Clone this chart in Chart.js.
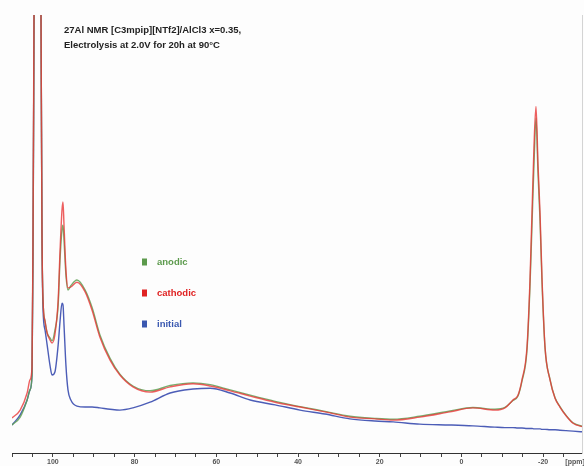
<!DOCTYPE html>
<html lang="en">
  <head>
    <meta charset="UTF-8" />
    <title>27Al NMR</title>
    <script src="https://cdn.jsdelivr.net/npm/chart.js"></script>
    <style>
      body { margin: 0; background: #fdfdfd; }
      #wrap { position: relative; width: 584px; height: 466px; }
      #note {
        position: absolute; left: 64px; top: 22px;
        font: bold 9.5px "Liberation Sans", Arial, sans-serif;
        line-height: 15px; color: #222; white-space: nowrap;
      }
    </style>
  </head>
  <body>
    <div id="wrap">
      <canvas id="nmrChart" width="584" height="466"></canvas>
      <div id="note">27Al NMR [C3mpip][NTf2]/AlCl3 x=0.35,<br />Electrolysis at 2.0V for 20h at 90°C</div>
    </div>
    <script>
      // chemical shift (ppm), shared by all three spectra
      const shift = [
        110, 108.0, 106.3, 105.6, 105.1, 104.86, 104.62, 104.37, 103.76, 103.15, 102.9, 102.66, 102.41,
        101.9, 101.4, 100.7, 100.2, 99.5, 98.7, 98.25, 97.76, 97.52, 97.27, 96.8, 96.3, 95.6, 94.1,
        92.1, 90.4, 88.5, 86.0, 83.6, 80.4, 76.2, 71.3, 65.7, 61.5, 56.6, 51.7, 45.6, 39.5, 33.4,
        27.3, 21.2, 16.7, 10.2, 2.8, -2.8, -8.2, -10.65, -12.6, -13.83, -14.81, -16.04, -16.77,
        -17.26, -17.75, -18.24, -18.73, -19.23, -19.71, -20.45, -21.67, -22.9, -24.1, -25.6, -27.3, -30
      ];
      const anodic = [
        6.4, 8.2, 12.1, 14.4, 17.8, 46, 95, 145, 225, 150, 100, 50, 35,
        30, 27.4, 26.3, 25.6, 28, 33.8, 44, 51, 52, 48.6, 40.6, 37.2, 38.2, 39.5,
        37.2, 33.2, 27, 21.6, 18, 15.3, 14.2, 15.4, 16.0, 15.6, 14.4, 13.2, 11.8, 10.6, 9.5,
        8.4, 7.9, 7.7, 8.4, 9.6, 10.4, 10.0, 10.4, 12.0, 13.0, 16.4, 23.5, 38,
        52, 66, 76.5, 64, 53, 39, 24, 16.8, 12.6, 10.6, 8.6, 6.9, 6.0
      ];
      const cathodic = [
        8.0, 9.8, 13.7, 16.7, 19.6, 50, 100, 150, 230, 150, 100, 50, 35,
        30, 27.4, 25.8, 25.1, 27, 35, 46, 55.5, 57.3, 52, 41.8, 37.7, 37.9, 39,
        36.8, 32.6, 26.5, 21.2, 17.8, 15.1, 13.9, 15.1, 15.8, 15.3, 14.2, 13.0, 11.6, 10.5, 9.4,
        8.2, 7.8, 7.5, 8.2, 9.4, 10.3, 9.8, 10.3, 12.1, 13.2, 16.7, 24.2, 39.5,
        54.8, 70, 79.1, 66, 54.8, 40, 24.2, 16.7, 12.5, 10.5, 8.5, 6.8, 5.9
      ];
      const initial = [
        6.4, 8.7, 12.1, 14.4, 17.8, 46, 95, 145, 225, 150, 100, 50, 33,
        28, 24.7, 20, 17.8, 18.5, 24.7, 30, 34.2, 33.8, 29.2, 20, 14.4, 12.1, 10.7,
        10.5, 10.5, 10.3, 10, 9.8, 10.3, 11.6, 13.7, 14.6, 14.8, 13.7, 12.1, 11.0, 9.8, 8.9,
        7.8, 7.3, 7.1, 6.6, 6.4, 6.2, 5.9, 5.8, 5.8, 5.7, 5.7, 5.6, 5.6,
        5.6, 5.5, 5.5, 5.5, 5.5, 5.4, 5.4, 5.3, 5.3, 5.2, 5.1, 5.0, 4.8
      ];

      // axis ticks every 5 ppm, labels every 20 ppm
      const tickPositions = [110, 105, 100, 95, 90, 85, 80, 75, 70, 65, 60, 55, 50, 45, 40, 35,
        30, 25, 20, 15, 10, 5, 0, -5, -10, -15, -20, -25];
      const tickLabels = [100, 80, 60, 40, 20, 0, -20];
      const unitTick = -27.8;
      const unitLabel = '[ppm]';

      const toPoints = (ys) => shift.map((x, i) => ({ x: x, y: ys[i] }));

      // legend drawn inside the plot, text in the series colour
      const insideLegend = {
        id: 'insideLegend',
        afterDraw(chart, args, opts) {
          const ctx = chart.ctx;
          ctx.save();
          ctx.font = 'bold 9.5px "Liberation Sans", Arial, sans-serif';
          ctx.textBaseline = 'middle';
          chart.data.datasets.forEach((ds, i) => {
            const y = opts.top + i * opts.spacing;
            ctx.fillStyle = ds.legendColor;
            ctx.fillRect(opts.left, y - 3.5, 5, 7);
            ctx.fillText(ds.label, opts.left + 15, y);
          });
          ctx.restore();
        }
      };

      const ctx = document.getElementById('nmrChart').getContext('2d');
      new Chart(ctx, {
        type: 'line',
        data: {
          datasets: [
            {
              label: 'anodic',
              data: toPoints(anodic),
              borderColor: 'rgba(95, 160, 85, 0.85)',
              legendColor: '#5c9a4c',
              order: 1
            },
            {
              label: 'cathodic',
              data: toPoints(cathodic),
              borderColor: 'rgba(232, 55, 55, 0.8)',
              legendColor: '#e02222',
              order: 0
            },
            {
              label: 'initial',
              data: toPoints(initial),
              borderColor: 'rgba(45, 65, 170, 0.85)',
              legendColor: '#3a58b0',
              order: 2
            }
          ]
        },
        options: {
          responsive: false,
          animation: false,
          layout: { padding: { left: 12, top: 15, right: 2, bottom: 0 } },
          elements: {
            point: { radius: 0 },
            line: { borderWidth: 1.4, cubicInterpolationMode: 'monotone' }
          },
          plugins: {
            legend: { display: false },
            tooltip: { enabled: false },
            insideLegend: { left: 142, top: 262, spacing: 31 }
          },
          scales: {
            x: {
              type: 'linear',
              reverse: true,
              min: -29.5,
              max: 110,
              afterBuildTicks: (scale) => {
                scale.ticks = tickPositions.concat([unitTick]).map((v) => ({ value: v }));
              },
              afterFit: (scale) => {
                scale.height = 13;
                scale.paddingLeft = 0;
                scale.paddingRight = 0;
              },
              border: { display: true, color: '#333', width: 1 },
              grid: {
                drawOnChartArea: false,
                tickLength: 4,
                tickColor: (c) => (c.tick && c.tick.value === unitTick ? 'rgba(0,0,0,0)' : '#444')
              },
              ticks: {
                autoSkip: false,
                maxRotation: 0,
                padding: 1,
                color: '#555',
                font: { family: '"Liberation Sans", Arial, sans-serif', size: 7, weight: 'bold' },
                callback: (value) => {
                  if (value === unitTick) return unitLabel;
                  return tickLabels.includes(value) ? String(value) : '';
                }
              }
            },
            y: {
              position: 'right',
              min: 0,
              max: 100,
              afterFit: (scale) => {
                scale.width = 0;
              },
              border: { display: true, color: '#d4d4d4', width: 1 },
              grid: { display: false },
              ticks: { display: false }
            }
          }
        },
        plugins: [insideLegend]
      });
    </script>
  </body>
</html>
